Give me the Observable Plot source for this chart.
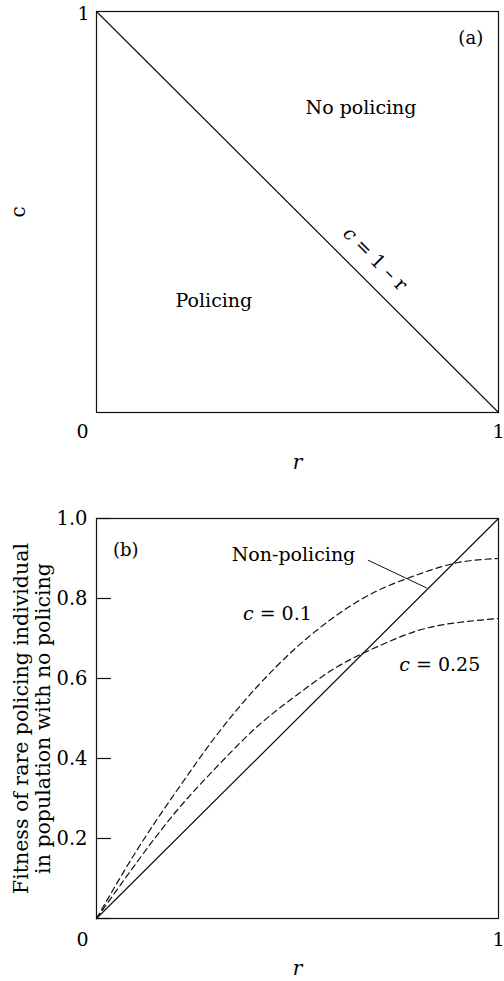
<!DOCTYPE html>
<html><head><meta charset="utf-8">
<script src="https://cdn.jsdelivr.net/npm/d3@7"></script>
<script src="https://cdn.jsdelivr.net/npm/@observablehq/plot@0.6"></script>
<style>
body{margin:0;background:#fff;}
#chart svg{display:block;}
</style></head><body><div id="chart"></div>
<script>
// Panel (a): boundary c = 1 - r
const boundaryR = [0, 1];
const boundaryC = [1, 0];
// Panel (b): fitness curves
const rGrid   = [0, 0.1, 0.2, 0.3, 0.4, 0.5, 0.6, 0.7, 0.8, 0.9, 1.0];
const fitC01  = [0, 0.17, 0.32, 0.46, 0.58, 0.68, 0.76, 0.82, 0.86, 0.89, 0.90];
const fitC025 = [0, 0.14, 0.27, 0.38, 0.48, 0.56, 0.63, 0.68, 0.72, 0.74, 0.75];
const nonPolR = [0, 1];
const nonPolF = [0, 1];
const yTicksB = [0, 0.2, 0.4, 0.6, 0.8, 1.0];
const yTickLabelsB = ["", "0.2", "0.4", "0.6", "0.8", "1.0"];
const xTickLabels = ["0", "1"];

const FONT = "DejaVu Serif";
const W = 504, ML = 96, MR = 6;
const innerW = W - ML - MR;

const zip = (xs, ys) => xs.map((x, i) => ({x, y: ys[i]}));

function italicC(svg) {
  d3.select(svg).selectAll("text").each(function () {
    const t = this.textContent;
    if (/^c = /.test(t)) {
      this.textContent = "";
      const s = d3.select(this);
      s.append("tspan").attr("font-style", "italic").text("c");
      s.append("tspan").text(t.slice(1));
    }
  });
}

// ---------- Panel (a)
const panelA = Plot.plot({
  width: W, height: 490,
  marginLeft: ML, marginRight: MR, marginTop: 11, marginBottom: 78,
  x: {domain: [0, 1], axis: null},
  y: {domain: [0, 1], axis: null},
  style: {fontFamily: FONT, fontSize: "18px", background: "white", color: "black"},
  marks: [
    Plot.frame({stroke: "#111", strokeWidth: 1.2}),
    Plot.line(zip(boundaryR, boundaryC), {x: "x", y: "y", stroke: "#111", strokeWidth: 1.2}),
    // tick labels
    Plot.text([xTickLabels[1]], {x: 0, y: 1, text: d => d, dx: -13, dy: 2, fontSize: 19}),
    Plot.text([xTickLabels[0]], {x: 0, y: 0, text: d => d, dx: -14, dy: 19, fontSize: 19}),
    Plot.text([xTickLabels[1]], {x: 1, y: 0, text: d => d, dx: 0, dy: 19, fontSize: 19}),
    // axis labels
    Plot.text(["r"], {x: 0.5, y: 0, text: d => d, dy: 50, fontSize: 20, fontStyle: "italic"}),
    Plot.text(["c"], {frameAnchor: "left", textAnchor: "middle", text: d => d, dx: -78, rotate: -90, fontSize: 20}),
    // annotations
    Plot.text(["No policing"], {x: 0.658, y: 0.76, text: d => d, fontSize: 19}),
    Plot.text(["Policing"], {x: 0.292, y: 0.279, text: d => d, fontSize: 19}),
    Plot.text(["(a)"], {x: 0.931, y: 0.934, text: d => d, fontSize: 18}),
    Plot.text(["c = 1 \u2013 r"], {x: 0.693, y: 0.383, text: d => d, rotate: 45, fontSize: 19})
  ]
});
italicC(panelA);

// ---------- Panel (b)
const panelB = Plot.plot({
  width: W, height: 491,
  marginLeft: ML, marginRight: MR, marginTop: 28, marginBottom: 63,
  x: {domain: [0, 1], axis: null},
  y: {domain: [0, 1], axis: null},
  style: {fontFamily: FONT, fontSize: "18px", background: "white", color: "black"},
  marks: [
    Plot.frame({stroke: "#111", strokeWidth: 1.2}),
    Plot.tickY(yTicksB, {y: d => d, stroke: "#111", strokeWidth: 1.2, insetRight: innerW - 15}),
    Plot.text(yTicksB, {x: 0, y: d => d, text: (d, i) => yTickLabelsB[i], textAnchor: "end", dx: -9, fontSize: 19.5}),
    Plot.text([xTickLabels[0]], {x: 0, y: 0, text: d => d, dx: -14, dy: 21, fontSize: 19}),
    Plot.text([xTickLabels[1]], {x: 1, y: 0, text: d => d, dx: 0, dy: 21, fontSize: 19}),
    Plot.line(zip(nonPolR, nonPolF), {x: "x", y: "y", stroke: "#111", strokeWidth: 1.2}),
    Plot.line(zip(rGrid, fitC01), {x: "x", y: "y", curve: "natural", stroke: "#111", strokeWidth: 1.2, strokeDasharray: "6,4"}),
    Plot.line(zip(rGrid, fitC025), {x: "x", y: "y", curve: "natural", stroke: "#111", strokeWidth: 1.2, strokeDasharray: "6,4"}),
    Plot.link([0], {x1: 0.675, y1: 0.896, x2: 0.822, y2: 0.826, stroke: "#111", strokeWidth: 1}),
    Plot.text(["r"], {x: 0.5, y: 0, text: d => d, dy: 50, fontSize: 20, fontStyle: "italic"}),
    Plot.text(["Fitness of rare policing individual\nin population with no policing"],
      {frameAnchor: "left", textAnchor: "middle", lineAnchor: "middle", text: d => d, dx: -65, rotate: -90, fontSize: 20.5, lineHeight: 1.08}),
    Plot.text(["(b)"], {x: 0.073, y: 0.921, text: d => d, fontSize: 18}),
    Plot.text(["Non-policing"], {x: 0.49, y: 0.908, text: d => d, fontSize: 19}),
    Plot.text(["c = 0.1"], {x: 0.45, y: 0.762, text: d => d, fontSize: 19}),
    Plot.text(["c = 0.25"], {x: 0.854, y: 0.635, text: d => d, fontSize: 19})
  ]
});
italicC(panelB);

const root = document.getElementById("chart");
root.appendChild(panelA);
root.appendChild(panelB);
</script></body></html>
